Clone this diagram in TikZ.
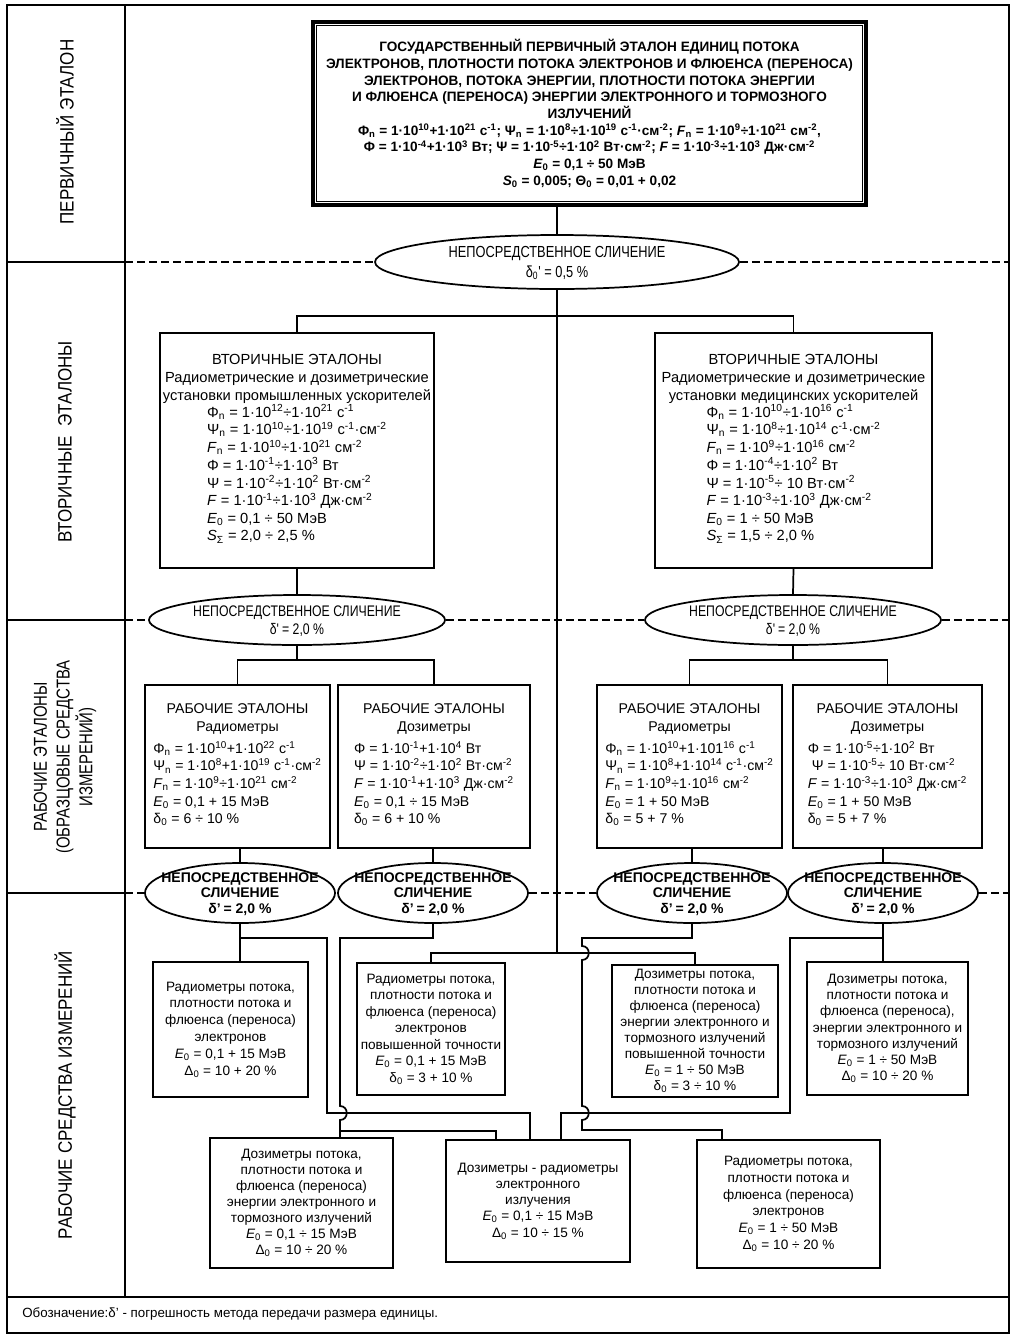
\documentclass[tikz,border=0pt]{standalone}
\usepackage{fontspec}
\setmainfont{Liberation Sans}
\newfontfamily\narrowfont[FakeStretch=0.8]{Liberation Sans}
\newfontfamily\semifont[FakeStretch=0.88]{Liberation Sans}
\usetikzlibrary{shapes.geometric}
\newcommand\Sup[1]{\textsuperscript{#1}}
\newcommand\Sub[1]{\textsubscript{#1}}
\newcommand\fsz[2]{\fontsize{#1}{#2}\selectfont}
\begin{document}
\begin{tikzpicture}[x=0.75pt,y=-0.75pt,
  box/.style={draw, line width=1.3pt, align=center, inner sep=1pt},
  conn/.style={line width=1.3pt},
  ell/.style={ellipse, draw, line width=1.3pt, inner sep=0pt},
  dashline/.style={line width=1.1pt, dash pattern=on 6pt off 3pt},
  lbl/.style={rotate=90, align=center, font=\semifont\fsz{14.5}{17}},
  etxt/.style={align=center, inner sep=0pt},
]
\useasboundingbox (0,0) rectangle (1014,1339);
% frame
\draw[line width=2.2pt] (7,5) rectangle (1009,1333);
\draw[line width=2.2pt] (125,5) -- (125,1297);
\draw[line width=1.3pt] (7,1297) -- (1009,1297);
\draw[line width=1pt] (7,262) -- (125,262);
\draw[line width=1pt] (7,620) -- (125,620);
\draw[line width=1pt] (7,893) -- (125,893);
% left labels
\node[lbl] (L1) at (65,132) {ПЕРВИЧНЫЙ ЭТАЛОН};
\node[lbl] (L2) at (65,442) {ВТОРИЧНЫЕ\ \ ЭТАЛОНЫ};
\node[lbl, font=\narrowfont\fsz{14}{17}] (L3) at (65,757) {РАБОЧИЕ ЭТАЛОНЫ\\(ОБРАЗЦОВЫЕ СРЕДСТВА\\ИЗМЕРЕНИЙ)};
\node[lbl] (L4) at (65,1095) {РАБОЧИЕ СРЕДСТВА ИЗМЕРЕНИЙ};
% top box
\node[box, line width=2.4pt, minimum width=414.75pt, minimum height=137.25pt, font=\bfseries\fsz{10.2}{12.5}] (top) at (589.5,113.5) {ГОСУДАРСТВЕННЫЙ ПЕРВИЧНЫЙ ЭТАЛОН ЕДИНИЦ ПОТОКА\\
ЭЛЕКТРОНОВ, ПЛОТНОСТИ ПОТОКА ЭЛЕКТРОНОВ И ФЛЮЕНСА (ПЕРЕНОСА)\\
ЭЛЕКТРОНОВ, ПОТОКА ЭНЕРГИИ, ПЛОТНОСТИ ПОТОКА ЭНЕРГИИ\\
И ФЛЮЕНСА (ПЕРЕНОСА) ЭНЕРГИИ ЭЛЕКТРОННОГО И ТОРМОЗНОГО\\
ИЗЛУЧЕНИЙ\\
Φ\Sub{n} = 1·10\Sup{10}+1·10\Sup{21} с\Sup{-1}; Ψ\Sub{n} = 1·10\Sup{8}÷1·10\Sup{19} с\Sup{-1}·см\Sup{-2}; \textit{F}\Sub{n} = 1·10\Sup{9}÷1·10\Sup{21} см\Sup{-2},\\
Φ = 1·10\Sup{-4}+1·10\Sup{3} Вт; Ψ = 1·10\Sup{-5}÷1·10\Sup{2} Вт·см\Sup{-2}; \textit{F} = 1·10\Sup{-3}÷1·10\Sup{3} Дж·см\Sup{-2}\\
\textit{E}\Sub{0} = 0,1 ÷ 50 МэВ\\
\textit{S}\Sub{0} = 0,005; Θ\Sub{0} = 0,01 + 0,02};
\draw[line width=0.8pt] ([shift={(3.5pt,-3.5pt)}]top.north west) rectangle ([shift={(-3.5pt,3.5pt)}]top.south east);
% top ellipse
\node[ell, minimum width=273pt, minimum height=40.5pt] (E0) at (557,262) {};
\node[etxt, font=\narrowfont\fsz{12}{14.5}] (E0t) at (557,263) {НЕПОСРЕДСТВЕННОЕ СЛИЧЕНИЕ\\δ\Sub{0}' = 0,5 \%};
\draw[conn] (top.south -| E0.north) -- (E0.north);
\draw[dashline] (125,262) -- (E0.west);
\draw[dashline] (E0.east) -- (1009,262);
% secondary standards
\node[box, minimum width=205.5pt, minimum height=176.25pt, font=\fsz{11}{13.2}] (S1) at (297,450.5) {ВТОРИЧНЫЕ ЭТАЛОНЫ\\
Радиометрические и дозиметрические\\
установки промышленных ускорителей\\
\begin{tabular}{@{}l@{}}
Φ\Sub{n} = 1·10\Sup{12}÷1·10\Sup{21} с\Sup{-1}\\
Ψ\Sub{n} = 1·10\Sup{10}÷1·10\Sup{19} с\Sup{-1}·см\Sup{-2}\\
\textit{F}\Sub{n} = 1·10\Sup{10}÷1·10\Sup{21} см\Sup{-2}\\
Φ = 1·10\Sup{-1}÷1·10\Sup{3} Вт\\
Ψ = 1·10\Sup{-2}÷1·10\Sup{2} Вт·см\Sup{-2}\\
\textit{F} = 1·10\Sup{-1}÷1·10\Sup{3} Дж·см\Sup{-2}\\
\textit{E}\Sub{0} = 0,1 ÷ 50 МэВ\\
\textit{S}\Sub{Σ} = 2,0 ÷ 2,5 \%
\end{tabular}};
\node[box, minimum width=207.75pt, minimum height=176.25pt, font=\fsz{11}{13.2}] (S2) at (793.5,450.5) {ВТОРИЧНЫЕ ЭТАЛОНЫ\\
Радиометрические и дозиметрические\\
установки медицинских ускорителей\\
\begin{tabular}{@{}l@{}}
Φ\Sub{n} = 1·10\Sup{10}÷1·10\Sup{16} с\Sup{-1}\\
Ψ\Sub{n} = 1·10\Sup{8}÷1·10\Sup{14} с\Sup{-1}·см\Sup{-2}\\
\textit{F}\Sub{n} = 1·10\Sup{9}÷1·10\Sup{16} см\Sup{-2}\\
Φ = 1·10\Sup{-4}÷1·10\Sup{2} Вт\\
Ψ = 1·10\Sup{-5}÷ 10 Вт·см\Sup{-2}\\
\textit{F} = 1·10\Sup{-3}÷1·10\Sup{3} Дж·см\Sup{-2}\\
\textit{E}\Sub{0} = 1 ÷ 50 МэВ\\
\textit{S}\Sub{Σ} = 1,5 ÷ 2,0 \%
\end{tabular}};
\coordinate (y316) at (0,316);
\draw[conn] (E0.south) -- (E0.south |- y316);
\draw[conn] (S1.north) -- (S1.north |- y316) -- (S2.north |- y316) -- (S2.north);
% row 3 ellipses
\node[ell, minimum width=222pt, minimum height=37.5pt] (EL) at (297,620) {};
\node[etxt, font=\narrowfont\fsz{11.5}{14}] (ELt) at (297,621) {НЕПОСРЕДСТВЕННОЕ СЛИЧЕНИЕ\\δ'\kern0.2em= 2,0 \%};
\node[ell, minimum width=222pt, minimum height=37.5pt] (ER) at (793,620) {};
\node[etxt, font=\narrowfont\fsz{11.5}{14}] (ERt) at (793,621) {НЕПОСРЕДСТВЕННОЕ СЛИЧЕНИЕ\\δ'\kern0.2em= 2,0 \%};
\draw[conn] (S1.south) -- (EL.north);
\draw[conn] (S2.south) -- (ER.north);
\draw[dashline] (125,620) -- (EL.west);
\draw[dashline] (EL.east) -- (ER.west);
\draw[dashline] (ER.east) -- (1009,620);
% working standards
\node[box, minimum width=138.75pt, minimum height=122.25pt, font=\fsz{10.6}{13.2}] (W1) at (237.5,766.5) {РАБОЧИЕ ЭТАЛОНЫ\\Радиометры\\[4pt]
\begin{tabular}{@{}l@{}}
Φ\Sub{n} = 1·10\Sup{10}+1·10\Sup{22} с\Sup{-1}\\
Ψ\Sub{n} = 1·10\Sup{8}+1·10\Sup{19} с\Sup{-1}·см\Sup{-2}\\
\textit{F}\Sub{n} = 1·10\Sup{9}÷1·10\Sup{21} см\Sup{-2}\\
\textit{E}\Sub{0} = 0,1 + 15 МэВ\\
δ\Sub{0} = 6 ÷ 10 \%
\end{tabular}};
\node[box, minimum width=144pt, minimum height=122.25pt, font=\fsz{10.6}{13.2}] (W2) at (434,766.5) {РАБОЧИЕ ЭТАЛОНЫ\\Дозиметры\\[4pt]
\begin{tabular}{@{}l@{}}
Φ = 1·10\Sup{-1}+1·10\Sup{4} Вт\\
Ψ = 1·10\Sup{-2}÷1·10\Sup{2} Вт·см\Sup{-2}\\
\textit{F} = 1·10\Sup{-1}+1·10\Sup{3} Дж·см\Sup{-2}\\
\textit{E}\Sub{0} = 0,1 ÷ 15 МэВ\\
δ\Sub{0} = 6 + 10 \%
\end{tabular}};
\node[box, minimum width=138.75pt, minimum height=122.25pt, font=\fsz{10.6}{13.2}] (W3) at (689.5,766.5) {РАБОЧИЕ ЭТАЛОНЫ\\Радиометры\\[4pt]
\begin{tabular}{@{}l@{}}
Φ\Sub{n} = 1·10\Sup{10}+1·101\Sup{16} с\Sup{-1}\\
Ψ\Sub{n} = 1·10\Sup{8}+1·10\Sup{14} с\Sup{-1}·см\Sup{-2}\\
\textit{F}\Sub{n} = 1·10\Sup{9}÷1·10\Sup{16} см\Sup{-2}\\
\textit{E}\Sub{0} = 1 + 50 МэВ\\
δ\Sub{0} = 5 + 7 \%
\end{tabular}};
\node[box, minimum width=141.75pt, minimum height=122.25pt, font=\fsz{10.6}{13.2}] (W4) at (887.5,766.5) {РАБОЧИЕ ЭТАЛОНЫ\\Дозиметры\\[4pt]
\begin{tabular}{@{}l@{}}
Φ = 1·10\Sup{-5}÷1·10\Sup{2} Вт\\
\ Ψ = 1·10\Sup{-5}÷ 10 Вт·см\Sup{-2}\\
\textit{F} = 1·10\Sup{-3}÷1·10\Sup{3} Дж·см\Sup{-2}\\
\textit{E}\Sub{0} = 1 + 50 МэВ\\
δ\Sub{0} = 5 + 7 \%
\end{tabular}};
\coordinate (y660) at (0,660);
\draw[conn] (EL.south) -- (EL.south |- y660);
\draw[conn] (W1.north) -- (W1.north |- y660) -- (W2.north |- y660) -- (W2.north);
\draw[conn] (ER.south) -- (ER.south |- y660);
\draw[conn] (W3.north) -- (W3.north |- y660) -- (W4.north |- y660) -- (W4.north);
% row 4 ellipses
\foreach \n/\x in {E1/240, E2/433, E3/692, E4/883}{
  \node[ell, minimum width=142.5pt, minimum height=45pt] (\n) at (\x,893) {};
  \node[etxt, font=\bfseries\fsz{10.5}{11.6}] (\n t) at (\x,894) {НЕПОСРЕДСТВЕННОЕ\\СЛИЧЕНИЕ\\δ'\kern0.2em= 2,0 \%};
}
\draw[conn] (E1.north) -- (E1.north |- W1.south);
\draw[conn] (E2.north) -- (E2.north |- W2.south);
\draw[conn] (E3.north) -- (E3.north |- W3.south);
\draw[conn] (E4.north) -- (E4.north |- W4.south);
\draw[dashline] (125,893) -- (E1.west);
\draw[dashline] (E2.east) -- (E3.west);
\draw[dashline] (E4.east) -- (1009,893);
% working measuring instruments
\node[box, minimum width=116.25pt, minimum height=101.25pt, font=\fsz{10.2}{12.6}] (B1) at (230.5,1029.5) {Радиометры потока,\\плотности потока и\\флюенса (переноса)\\электронов\\\textit{E}\Sub{0} = 0,1 + 15 МэВ\\Δ\Sub{0} = 10 + 20 \%};
\node[box, minimum width=111pt, minimum height=99pt, font=\fsz{10.2}{12.4}] (B2) at (431,1029) {Радиометры потока,\\плотности потока и\\флюенса (переноса)\\электронов\\повышенной точности\\\textit{E}\Sub{0} = 0,1 + 15 МэВ\\δ\Sub{0} = 3 + 10 \%};
\node[box, minimum width=124.5pt, minimum height=99pt, font=\fsz{10.2}{12}] (B3) at (695,1031) {Дозиметры потока,\\плотности потока и\\флюенса (переноса)\\энергии электронного и\\тормозного излучений\\повышенной точности\\\textit{E}\Sub{0} = 1 ÷ 50 МэВ\\δ\Sub{0} = 3 ÷ 10 \%};
\node[box, minimum width=120.75pt, minimum height=99.75pt, font=\fsz{10.2}{12.2}] (B4) at (887.5,1028.5) {Дозиметры потока,\\плотности потока и\\флюенса (переноса),\\энергии электронного и\\тормозного излучений\\\textit{E}\Sub{0} = 1 ÷ 50 МэВ\\Δ\Sub{0} = 10 ÷ 20 \%};
\node[box, minimum width=137.25pt, minimum height=97.5pt, font=\fsz{10.2}{12}] (BA) at (301.5,1203) {Дозиметры потока,\\плотности потока и\\флюенса (переноса)\\энергии электронного и\\тормозного излучений\\\textit{E}\Sub{0} = 0,1 ÷ 15 МэВ\\Δ\Sub{0} = 10 ÷ 20 \%};
\node[box, minimum width=138pt, minimum height=91.5pt, font=\fsz{10.2}{12.2}] (BB) at (538,1201) {Дозиметры - радиометры\\электронного\\излучения\\\textit{E}\Sub{0} = 0,1 ÷ 15 МэВ\\Δ\Sub{0} = 10 ÷ 15 \%};
\node[box, minimum width=137.25pt, minimum height=96pt, font=\fsz{10.2}{12.5}] (BC) at (788.5,1204) {Радиометры потока,\\плотности потока и\\флюенса (переноса)\\электронов\\\textit{E}\Sub{0} = 1 ÷ 50 МэВ\\Δ\Sub{0} = 10 ÷ 20 \%};
% connectors in the lower part
\coordinate (y938) at (0,938);
\coordinate (y953) at (0,953);
% E1
\draw[conn] (E1.south) -- (E1.south |- B1.north);
\draw[conn] (E1.south |- y938) -- (327,938) -- (327,1113) -- (530,1113) -- (530,0 |- BB.north);
% E2
\draw[conn] (E2.south) -- (E2.south |- y938) -- (340,938) -- (340,1106) .. controls (349,1106) and (349,1120) .. (340,1120) -- (340,0 |- BA.north);
\draw[conn] (340,1131) -- (496,1131) -- (496,0 |- BB.north);
% centre line from primary comparison
\draw[conn] (E0.south) -- (E0.south |- y953);
\draw[conn] (B2.north) -- (B2.north |- y953) -- (B3.north |- y953) -- (B3.north);
% E3
\draw[conn] (E3.south) -- (E3.south |- y938) -- (582,938) -- (582,946) .. controls (591,946) and (591,960) .. (582,960) -- (582,1106) .. controls (591,1106) and (591,1120) .. (582,1120) -- (582,1130) -- (722,1130) -- (722,0 |- BC.north);
% E4
\draw[conn] (E4.south) -- (E4.south |- B4.north);
\draw[conn] (E4.south |- y938) -- (790,938) -- (790,1113) -- (561,1113) -- (561,0 |- BB.north);
% footer
\node[anchor=west, font=\fsz{10}{11}, inner sep=0pt] (foot) at (22,1314) {Обозначение:δ' - погрешность метода передачи размера единицы.};
\end{tikzpicture}
\end{document}
